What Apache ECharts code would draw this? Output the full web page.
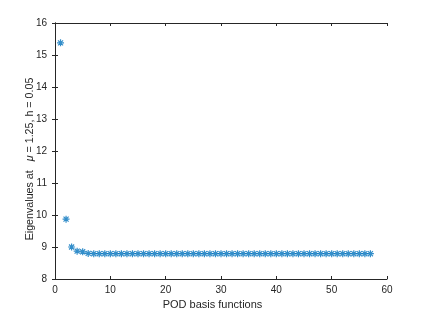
<!DOCTYPE html>
<html><head><meta charset="utf-8">
<script src="https://cdn.jsdelivr.net/npm/echarts@6/dist/echarts.min.js"></script>
<style>html,body{margin:0;padding:0;background:#fff}#c{width:428px;height:315px}</style>
</head><body><div id="c"></div>
<script>
const basisIndex = [];
for (let i = 1; i <= 57; i++) basisIndex.push(i);
const eigenvalues = [15.38, 9.87, 9.00, 8.87, 8.85, 8.80, 8.79, 8.79, 8.79, 8.79,
  8.79, 8.79, 8.79, 8.79, 8.79, 8.79, 8.79, 8.79, 8.79, 8.79,
  8.79, 8.79, 8.79, 8.79, 8.79, 8.79, 8.79, 8.79, 8.79, 8.79,
  8.79, 8.79, 8.79, 8.79, 8.79, 8.79, 8.79, 8.79, 8.79, 8.79,
  8.79, 8.79, 8.79, 8.79, 8.79, 8.79, 8.79, 8.79, 8.79, 8.79,
  8.79, 8.79, 8.79, 8.79, 8.79, 8.79, 8.79];
const xTicks = [0, 10, 20, 30, 40, 50, 60];
const yTicks = [8, 9, 10, 11, 12, 13, 14, 15, 16];

const font = 'Liberation Sans, Arial, sans-serif';
const axisCol = '#262626';
const chart = echarts.init(document.getElementById('c'), null, {renderer: 'canvas'});
const baseAxisLine = {show: true, lineStyle: {color: axisCol, width: 1}};
const asterisk = 'path://M0,-1L0,1M-1,0L1,0M-0.72,-0.72L0.72,0.72M-0.72,0.72L0.72,-0.72';
chart.setOption({
  animation: false,
  backgroundColor: '#fff',
  grid: {left: 55, right: 41, top: 23, bottom: 34},
  xAxis: [{
    type: 'value', min: xTicks[0], max: xTicks[xTicks.length - 1], interval: 10,
    axisLine: baseAxisLine,
    axisTick: {show: true, inside: true, length: 3, lineStyle: {color: axisCol}},
    axisLabel: {color: axisCol, fontFamily: font, fontSize: 10, margin: 6},
    splitLine: {show: false},
    name: '{n|POD basis functions}{s| }', nameLocation: 'middle', nameGap: 20, nameMoveOverlap: false,
    nameTextStyle: {color: axisCol, fontFamily: font, fontSize: 11,
      rich: {n: {fontFamily: font, fontSize: 11, color: axisCol}, s: {width: 17}}}
  }, {
    type: 'value', position: 'top', min: 0, max: 60, interval: 10,
    axisLine: baseAxisLine,
    axisTick: {show: true, inside: true, length: 3, lineStyle: {color: axisCol}},
    axisLabel: {show: false}, splitLine: {show: false}
  }],
  yAxis: [{
    type: 'value', min: yTicks[0], max: yTicks[yTicks.length - 1], interval: 1,
    axisLine: baseAxisLine,
    axisTick: {show: true, inside: true, length: 3, lineStyle: {color: axisCol}},
    axisLabel: {color: axisCol, fontFamily: font, fontSize: 10, margin: 8},
    splitLine: {show: false},
    name: '{n|Eigenvalues at   }{i|μ}{n| = 1.25, h = 0.05}{s| }', nameLocation: 'middle', nameGap: 19, nameRotate: 90,
    nameMoveOverlap: false,
    nameTextStyle: {color: axisCol, fontFamily: font, fontSize: 10.7,
      rich: {n: {fontFamily: font, fontSize: 10.7, color: axisCol},
             i: {fontFamily: font, fontSize: 10.7, color: axisCol, fontStyle: 'italic'},
             s: {width: 16}}}
  }, {
    type: 'value', position: 'right', min: 8, max: 16, interval: 1,
    axisLine: baseAxisLine,
    axisTick: {show: true, inside: true, length: 3, lineStyle: {color: axisCol}},
    axisLabel: {show: false}, splitLine: {show: false}
  }],
  series: [{
    type: 'scatter',
    xAxisIndex: 0, yAxisIndex: 0,
    data: basisIndex.map((x, i) => [x, eigenvalues[i]]),
    symbol: asterisk,
    symbolSize: 7,
    itemStyle: {color: 'rgba(0,0,0,0)', borderColor: '#0072BD', borderWidth: 1.2},
    emphasis: {disabled: true}
  }]
});
</script></body></html>
